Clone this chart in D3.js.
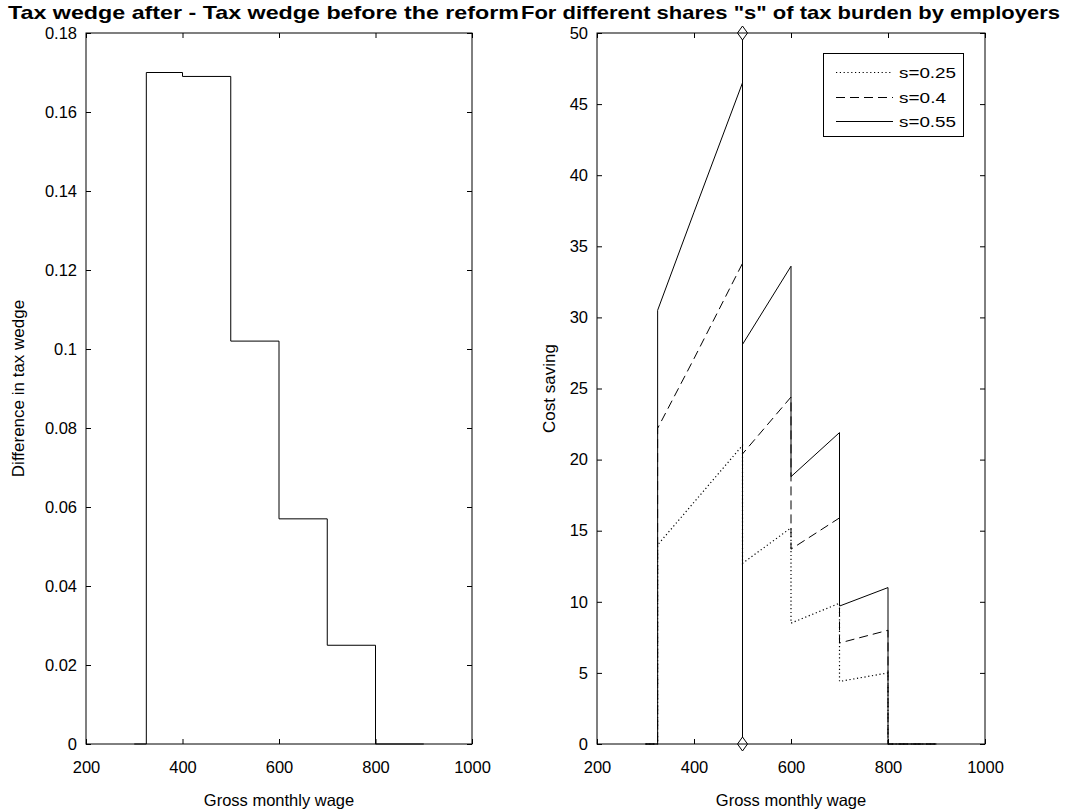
<!DOCTYPE html>
<html>
<head>
<meta charset="utf-8">
<script src="https://cdn.jsdelivr.net/npm/d3@7"></script>
<style>
  html, body { margin: 0; padding: 0; background: #fff; }
  svg { display: block; font-family: "Liberation Sans", Arial, sans-serif; }
</style>
</head>
<body>
<svg id="chart" width="1065" height="812"></svg>
<script>
// ---------- Data ----------
const leftTitle = "Tax wedge after - Tax wedge before the reform";
const rightTitle = 'For different shares "s" of tax burden by employers';
const xLabel = "Gross monthly wage";
const leftYLabel = "Difference in tax wedge";
const rightYLabel = "Cost saving";

const xTicks = [200, 400, 600, 800, 1000];
const leftYTicks = [0, 0.02, 0.04, 0.06, 0.08, 0.1, 0.12, 0.14, 0.16, 0.18];
const rightYTicks = [0, 5, 10, 15, 20, 25, 30, 35, 40, 45, 50];

// Left panel: step function of tax-wedge difference
const leftWage = [300, 325, 325, 400, 400, 500, 500, 600, 600, 700, 700, 800, 800, 900];
const leftDiff = [0, 0, 0.170, 0.170, 0.169, 0.169, 0.102, 0.102, 0.057, 0.057, 0.025, 0.025, 0, 0];

// Right panel: cost saving for different shares s
const rightWage = [300, 325, 325, 400, 500, 500, 600, 600, 700, 700, 800, 800, 900];
const s025 = [0, 0, 14.0, 17.0, 21.0, 12.7, 15.2, 8.5, 9.9, 4.4, 5.0, 0, 0];
const s040 = [0, 0, 22.2, 27.1, 33.8, 20.4, 24.4, 13.7, 15.9, 7.1, 8.0, 0, 0];
const s055 = [0, 0, 30.5, 37.4, 46.5, 28.1, 33.6, 18.8, 21.9, 9.7, 11.0, 0, 0];
const seriesNames = ["s=0.25", "s=0.4", "s=0.55"];
const seriesValues = [s025, s040, s055];
const seriesDash = ["1.2,2.6", "9,5", null];

// Reference vertical line at wage 500 (from 0 to 50)
const refWage = [500, 500];
const refValue = [0, 50];

// ---------- Layout ----------
const svg = d3.select("#chart");
const yTop = 33, yBottom = 744;
const leftPanel = { x0: 86, x1: 472 };
const rightPanel = { x0: 597, x1: 985 };
const FONT = "Liberation Sans, Arial, sans-serif";

function drawFrame(g, x, y, xt, yt, yFmt, panel) {
  const tick = 5;
  g.append("g").attr("transform", `translate(0,${yBottom})`)
    .call(d3.axisBottom(x).tickValues(xt).tickSizeInner(-tick).tickSizeOuter(0).tickPadding(17).tickFormat(d3.format("d")))
    .call(a => { a.select(".domain").remove(); a.selectAll("text").attr("font-size", 16.5).attr("fill", "#000").attr("font-family", FONT); });
  g.append("g").attr("transform", `translate(0,${yTop})`)
    .call(d3.axisTop(x).tickValues(xt).tickSizeInner(-tick).tickSizeOuter(0).tickFormat(""))
    .call(a => a.select(".domain").remove());
  g.append("g").attr("transform", `translate(${panel.x0},0)`)
    .call(d3.axisLeft(y).tickValues(yt).tickSizeInner(-tick).tickSizeOuter(0).tickPadding(9).tickFormat(yFmt))
    .call(a => { a.select(".domain").remove(); a.selectAll("text").attr("font-size", 16.5).attr("fill", "#000").attr("font-family", FONT); });
  g.append("g").attr("transform", `translate(${panel.x1},0)`)
    .call(d3.axisRight(y).tickValues(yt).tickSizeInner(-tick).tickSizeOuter(0).tickFormat(""))
    .call(a => a.select(".domain").remove());
  g.append("rect").attr("x", panel.x0).attr("y", yTop)
    .attr("width", panel.x1 - panel.x0).attr("height", yBottom - yTop)
    .attr("fill", "none").attr("stroke", "#000").attr("stroke-width", 1);
  g.selectAll(".tick line").attr("stroke", "#000");
}

// ---------- Left panel ----------
const xL = d3.scaleLinear().domain([200, 1000]).range([leftPanel.x0, leftPanel.x1]);
const yL = d3.scaleLinear().domain([0, 0.18]).range([yBottom, yTop]);
const gL = svg.append("g");
const lineL = d3.line().x((d, i) => xL(leftWage[i])).y(d => yL(d));
gL.append("path").datum(leftDiff).attr("d", lineL)
  .attr("fill", "none").attr("stroke", "#000").attr("stroke-width", 1);
drawFrame(gL, xL, yL, xTicks, leftYTicks, d => (d === 0 ? "0" : String(+d.toFixed(2))), leftPanel);

gL.append("text").attr("x", 8).attr("y", 19)
  .attr("font-weight", "bold").attr("font-size", 19)
  .attr("textLength", 511).attr("lengthAdjust", "spacingAndGlyphs").text(leftTitle);
gL.append("text").attr("x", (leftPanel.x0 + leftPanel.x1) / 2).attr("y", 806)
  .attr("text-anchor", "middle").attr("font-size", 16.5).text(xLabel);
gL.append("text").attr("transform", `translate(24,${(yTop + yBottom) / 2}) rotate(-90)`)
  .attr("text-anchor", "middle").attr("font-size", 17).text(leftYLabel);

// ---------- Right panel ----------
const xR = d3.scaleLinear().domain([200, 1000]).range([rightPanel.x0, rightPanel.x1]);
const yR = d3.scaleLinear().domain([0, 50]).range([yBottom, yTop]);
const gR = svg.append("g");
const lineR = d3.line().x((d, i) => xR(rightWage[i])).y(d => yR(d));
seriesValues.forEach((vals, k) => {
  gR.append("path").datum(vals).attr("d", lineR)
    .attr("fill", "none").attr("stroke", "#000").attr("stroke-width", k === 0 ? 1.2 : 1)
    .attr("stroke-dasharray", seriesDash[k]);
});
gR.append("line").attr("x1", xR(refWage[0])).attr("x2", xR(refWage[1]))
  .attr("y1", yR(refValue[0])).attr("y2", yR(refValue[1]))
  .attr("stroke", "#000").attr("stroke-width", 1);
const diamond = "M0,-7 L5,0 L0,7 L-5,0 Z";
refValue.forEach((v, i) => {
  gR.append("path").attr("d", diamond)
    .attr("transform", `translate(${xR(refWage[i])},${yR(v)})`)
    .attr("fill", "#fff").attr("stroke", "#000").attr("stroke-width", 1);
});
drawFrame(gR, xR, yR, xTicks, rightYTicks, d3.format("d"), rightPanel);

gR.append("text").attr("x", 521).attr("y", 19)
  .attr("font-weight", "bold").attr("font-size", 19)
  .attr("textLength", 539).attr("lengthAdjust", "spacingAndGlyphs").text(rightTitle);
gR.append("text").attr("x", (rightPanel.x0 + rightPanel.x1) / 2).attr("y", 806)
  .attr("text-anchor", "middle").attr("font-size", 16.5).text(xLabel);
gR.append("text").attr("transform", `translate(555,${(yTop + yBottom) / 2}) rotate(-90)`)
  .attr("text-anchor", "middle").attr("font-size", 17).text(rightYLabel);

// legend
const lg = gR.append("g");
lg.append("rect").attr("x", 823.5).attr("y", 53.5).attr("width", 140).attr("height", 83)
  .attr("fill", "#fff").attr("stroke", "#000").attr("stroke-width", 1);
const legendRows = [72, 97, 121];
const legendWidths = [57, 47, 57];
seriesNames.forEach((name, k) => {
  lg.append("line").attr("x1", 836).attr("x2", 893)
    .attr("y1", legendRows[k] + 0.5).attr("y2", legendRows[k] + 0.5)
    .attr("stroke", "#000").attr("stroke-width", k === 0 ? 1.2 : 1).attr("stroke-dasharray", seriesDash[k]);
  lg.append("text").attr("x", 899).attr("y", legendRows[k] + 5.5)
    .attr("font-size", 15).attr("textLength", legendWidths[k]).attr("lengthAdjust", "spacingAndGlyphs").text(name);
});
</script>
</body>
</html>
